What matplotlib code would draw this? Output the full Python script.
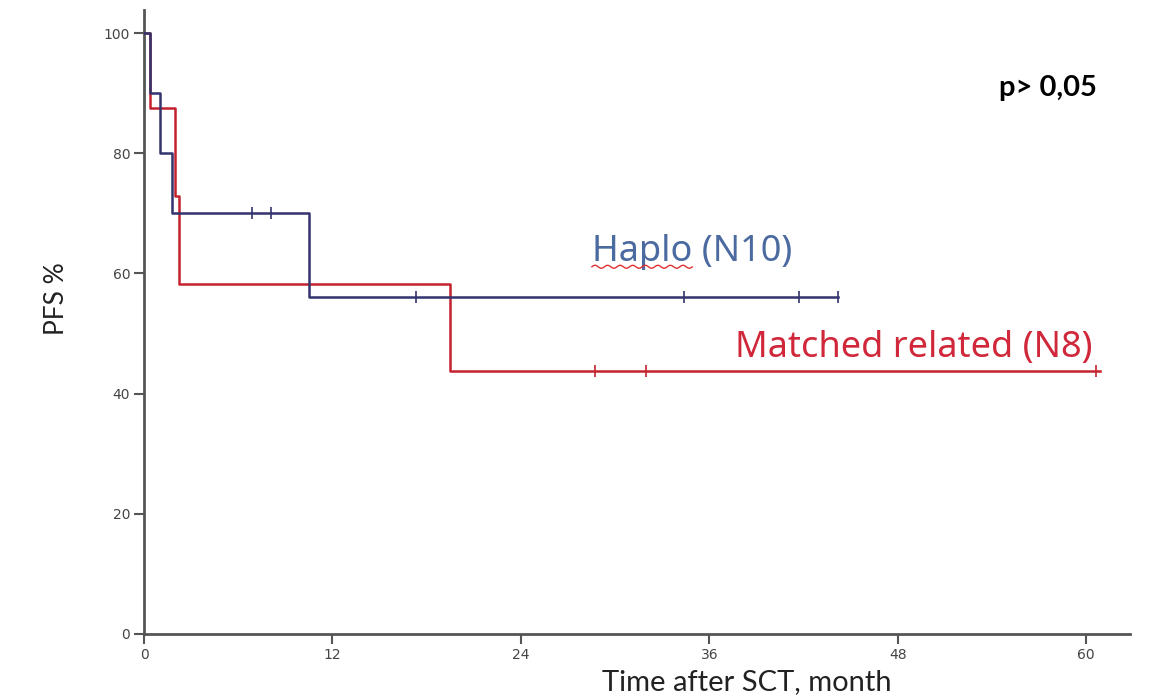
import matplotlib
matplotlib.use("Agg")
import matplotlib.pyplot as plt
import numpy as np
from matplotlib.lines import Line2D

# Kaplan-Meier steps (months, PFS %)
haplo_t = [0, 0.4, 1.0, 1.8, 10.5, 44.2]
haplo_s = [100, 90, 80, 70, 56, 56]
haplo_cens_t = [6.9, 8.1, 17.3, 34.4, 41.7, 44.2]
haplo_cens_s = [70, 70, 56, 56, 56, 56]

mrd_t = [0, 0.35, 2.0, 2.2, 19.5, 60.9]
mrd_s = [100, 87.5, 72.9, 58.3, 43.75, 43.75]
mrd_cens_t = [28.7, 32.0, 60.6]
mrd_cens_s = [43.75, 43.75, 43.75]

x_ticks = [0, 12, 24, 36, 48, 60]
y_ticks = [0, 20, 40, 60, 80, 100]

blue = "#33336e"
red = "#c4212e"
axis_col = "#555555"
label_font = ["Lato", "DejaVu Sans"]
group_font = ["Noto Sans", "DejaVu Sans"]


def create_graph():
    fig = plt.figure(figsize=(11.56, 6.97), dpi=100)
    ax = fig.add_axes([0.1246, 0.0904, 0.853, 0.895])

    ax.step(haplo_t, haplo_s, where="post", color=blue, lw=1.8, zorder=3)
    ax.step(mrd_t, mrd_s, where="post", color=red, lw=1.8, zorder=2)
    ax.plot(haplo_cens_t, haplo_cens_s, ls="none", marker="|", ms=8, mew=1.2, color=blue, zorder=3)
    ax.plot(mrd_cens_t, mrd_cens_s, ls="none", marker="|", ms=8, mew=1.2, color=red, zorder=2)

    ax.set_xlim(0, 62.8)
    ax.set_ylim(0, 103.8)
    ax.set_xticks(x_ticks)
    ax.set_yticks(y_ticks)

    for side in ["top", "right"]:
        ax.spines[side].set_visible(False)
    for side in ["left", "bottom"]:
        ax.spines[side].set_color(axis_col)
        ax.spines[side].set_linewidth(2)
    ax.tick_params(axis="both", direction="out", length=7, width=1.5, color=axis_col,
                   labelsize=10, labelcolor="#444444", pad=3)
    for lab in ax.get_xticklabels() + ax.get_yticklabels():
        lab.set_family(["Liberation Sans Narrow", "DejaVu Sans"])

    # axis titles
    fig.text(0.049, 0.571, "PFS %", rotation=90, fontsize=19, family=label_font,
             ha="center", va="center", color="#222222")
    fig.text(0.646, 0.021, "Time after SCT, month", fontsize=21, family=label_font,
             ha="center", va="center", color="#222222")

    # group labels
    haplo_txt = ax.text(34.9, 63.6, "Haplo (N10)", fontsize=26, family=group_font,
                        color="#4a6aa0", ha="center", va="center")
    ax.text(49.0, 47.6, "Matched related (N8)", fontsize=26, family=group_font,
            color="#d0283a", ha="center", va="center")
    fig.text(0.9485, 0.874, "p> 0,05", fontsize=21, fontweight="bold", family=label_font,
             ha="right", va="center", color="black")

    # red spell-check wave under "Haplo"
    fig.canvas.draw()
    r = fig.canvas.get_renderer()
    bb = haplo_txt.get_window_extent(r)
    tmp = ax.text(0, 0, "Haplo", fontsize=26, family=group_font)
    w = tmp.get_window_extent(r).width
    tmp.remove()
    xs = np.linspace(bb.x0, bb.x0 + w, 80)
    ys = bb.y0 + 3 + 1.5 * np.sin((xs - bb.x0) / 2.0)
    fig.add_artist(Line2D(xs, ys, transform=None, color="#e03030", lw=1))

    fig.savefig("out.png", dpi=100)


if __name__ == "__main__":
    create_graph()
